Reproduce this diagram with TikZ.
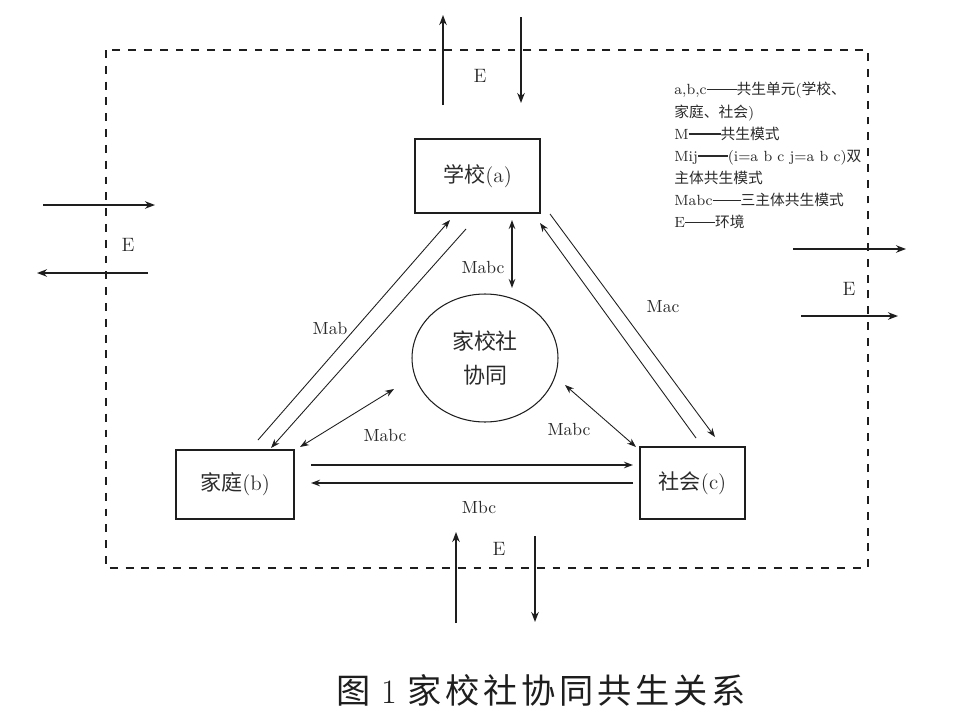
\documentclass[tikz,border=0pt]{standalone}
\usepackage{fontspec}
\newfontfamily\cjk{Noto Sans CJK SC}
\newfontfamily\cjktitle[LetterSpace=11]{Noto Sans CJK SC}
\usetikzlibrary{arrows.meta,shapes.geometric}
\definecolor{tinta}{HTML}{1E1E1E}
\definecolor{texto}{HTML}{2A2A2A}
\newcommand\zh[1]{{\cjk #1}}
\newcommand\legrule[1]{\rule[0.3em]{#1}{0.9pt}}

\begin{document}
\begin{tikzpicture}[
  x=0.02cm, y=-0.02cm,
  unitbox/.style={draw=tinta, line width=1.1pt, inner sep=0pt, text=texto, font=\fontsize{12}{14}\selectfont},
  link/.style={-{Stealth[length=1.8mm,width=1.3mm]}, line width=0.5pt, tinta},
  bilink/.style={{Stealth[length=1.8mm,width=1.3mm]}-{Stealth[length=1.8mm,width=1.3mm]}, line width=0.5pt, tinta},
  flow/.style={-{Stealth[length=2mm,width=1.5mm]}, line width=1pt, tinta},
  lab/.style={text=texto, font=\fontsize{10}{12}\selectfont},
  elab/.style={text=texto, font=\fontsize{11}{13}\selectfont},
  envframe/.style={draw=tinta, line width=1.1pt, dash pattern=on 4.5pt off 4.5pt}
]
  \useasboundingbox (0,0) rectangle (961,720);
  \draw[envframe] (106,50) rectangle (868,568);

  \node[unitbox, minimum width=2.5cm, minimum height=1.48cm] (a) at (477.5,176) {\zh{学校}(a)};
  \node[unitbox, minimum width=2.36cm, minimum height=1.38cm] (b) at (235,484.5) {\zh{家庭}(b)};
  \node[unitbox, minimum width=2.1cm, minimum height=1.44cm] (c) at (692.5,483) {\zh{社会}(c)};
  \node[draw=tinta, line width=0.6pt, ellipse, minimum width=2.92cm, minimum height=2.56cm, inner sep=0pt,
        align=center, text=texto, font=\fontsize{12.5}{19}\selectfont] (o) at (485,358) {\zh{家校社}\\\zh{协同}};

  % arrows between units
  \coordinate (ab1) at (258,440);  \coordinate (ab2) at (450,220);
  \coordinate (ab3) at (466,229);  \coordinate (ab4) at (271,448);
  \coordinate (ac1) at (696,438);  \coordinate (ac2) at (540,223);
  \coordinate (ac3) at (550,214);  \coordinate (ac4) at (715,437);
  \coordinate (bc1) at (311,465);  \coordinate (bc2) at (633,465);
  \coordinate (bc3) at (633,483);  \coordinate (bc4) at (311,483);
  \draw[link] (ab1) -- (ab2);
  \draw[link] (ab3) -- (ab4);
  \draw[link] (ac1) -- (ac2);
  \draw[link] (ac3) -- (ac4);
  \draw[link, line width=0.8pt] (bc1) -- (bc2);
  \draw[link, line width=0.8pt] (bc3) -- (bc4);

  % arrows to the centre
  \coordinate (ao1) at (512,220);  \coordinate (ao2) at (512,288);
  \coordinate (bo1) at (300,447);  \coordinate (bo2) at (394,389);
  \coordinate (co1) at (636,447);  \coordinate (co2) at (565,385);
  \draw[bilink, line width=1pt] (ao1) -- (ao2);
  \draw[bilink] (bo1) -- (bo2);
  \draw[bilink] (co1) -- (co2);

  \node[lab] (lab) at (330,328) {Mab};
  \node[lab] (lac) at (663,307) {Mac};
  \node[lab] (lbc) at (479,507) {Mbc};
  \node[lab] (lao) at (483,267) {Mabc};
  \node[lab] (lbo) at (385,435) {Mabc};
  \node[lab] (lco) at (569,429) {Mabc};

  % environment
  \coordinate (et1) at (443,105);  \coordinate (et2) at (443,15);
  \coordinate (et3) at (521,17);   \coordinate (et4) at (521,103);
  \coordinate (el1) at (43,205);   \coordinate (el2) at (155,205);
  \coordinate (el3) at (148,273);  \coordinate (el4) at (37,273);
  \coordinate (er1) at (793,249);  \coordinate (er2) at (906,249);
  \coordinate (er3) at (801,316);  \coordinate (er4) at (898,316);
  \coordinate (eb1) at (456,623);  \coordinate (eb2) at (456,532);
  \coordinate (eb3) at (535,536);  \coordinate (eb4) at (535,622);
  \draw[flow] (et1) -- (et2);
  \draw[flow] (et3) -- (et4);
  \draw[flow] (el1) -- (el2);
  \draw[flow] (el3) -- (el4);
  \draw[flow] (er1) -- (er2);
  \draw[flow] (er3) -- (er4);
  \draw[flow] (eb1) -- (eb2);
  \draw[flow] (eb3) -- (eb4);
  \node[elab] (et) at (480,76) {E};
  \node[elab] (el) at (128,245) {E};
  \node[elab] (er) at (849,289) {E};
  \node[elab] (eb) at (499,549) {E};

  \node[anchor=north west, align=left, inner sep=0pt, text=texto,
        font=\fontsize{8.4}{12.6}\selectfont] (leyenda) at (674,82)
    {a,b,c\legrule{0.6cm}\zh{共生单元}(\zh{学校、}\\
     \zh{家庭、社会})\\
     M\legrule{0.64cm}\zh{共生模式}\\
     Mij\legrule{0.6cm}(i=a b c j=a b c)\zh{双}\\
     \zh{主体共生模式}\\
     Mabc\legrule{0.56cm}\zh{三主体共生模式}\\
     E\legrule{0.6cm}\zh{环境}};

  \node[text=tinta, font=\fontsize{19.5}{22}\selectfont] (titulo) at (541,690)
    {{\cjktitle 图}~1~{\cjktitle 家校社协同共生关系}};
\end{tikzpicture}
\end{document}
